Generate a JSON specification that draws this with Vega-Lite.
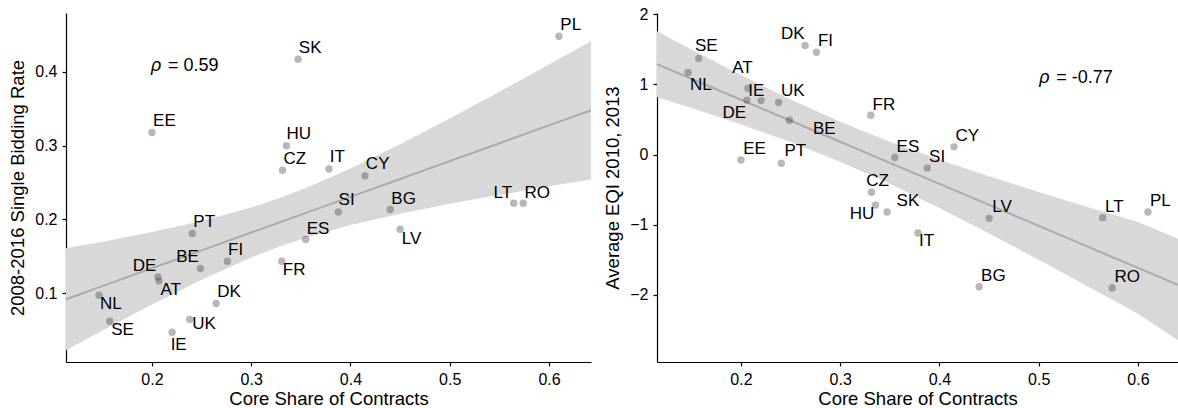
{
  "$schema": "https://vega.github.io/schema/vega-lite/v6.json",
  "padding": {"left": 8, "top": 6, "right": 0, "bottom": 0},
  "spacing": 8,
  "config": {
    "view": {"stroke": null},
    "font": "Liberation Sans",
    "axis": {
      "grid": false,
      "domainColor": "#000000",
      "domainWidth": 1.2,
      "tickColor": "#000000",
      "tickWidth": 1.2,
      "tickSize": 4,
      "labelFontSize": 16,
      "labelColor": "#000000",
      "labelPadding": 5,
      "titleFontSize": 18.5,
      "titleFontWeight": "normal",
      "titleColor": "#000000"
    },
    "axisX": {"titlePadding": 2},
    "axisY": {"titlePadding": 7}
  },
  "datasets": {
    "pts": [
      {"c": "SE", "cs": 0.1575, "sbr": 0.0617, "eqi": 1.37, "lx1": 0.1703, "ly1": 0.05, "lx2": 0.165, "ly2": 1.545},
      {"c": "NL", "cs": 0.1467, "sbr": 0.097, "eqi": 1.17, "lx1": 0.1585, "ly1": 0.0852, "lx2": 0.1595, "ly2": 0.996},
      {"c": "AT", "cs": 0.207, "sbr": 0.1164, "eqi": 0.946, "lx1": 0.2189, "ly1": 0.1042, "lx2": 0.2015, "ly2": 1.241},
      {"c": "DE", "cs": 0.206, "sbr": 0.1218, "eqi": 0.775, "lx1": 0.1926, "ly1": 0.1373, "lx2": 0.1933, "ly2": 0.586},
      {"c": "IE", "cs": 0.2203, "sbr": 0.0468, "eqi": 0.77, "lx1": 0.2269, "ly1": 0.0298, "lx2": 0.2154, "ly2": 0.903},
      {"c": "UK", "cs": 0.238, "sbr": 0.064, "eqi": 0.742, "lx1": 0.2524, "ly1": 0.0577, "lx2": 0.2522, "ly2": 0.903},
      {"c": "BE", "cs": 0.2488, "sbr": 0.1332, "eqi": 0.49, "lx1": 0.2358, "ly1": 0.1486, "lx2": 0.2839, "ly2": 0.361},
      {"c": "DK", "cs": 0.2646, "sbr": 0.0857, "eqi": 1.555, "lx1": 0.2777, "ly1": 0.1008, "lx2": 0.2522, "ly2": 1.717},
      {"c": "FI", "cs": 0.276, "sbr": 0.1431, "eqi": 1.46, "lx1": 0.2843, "ly1": 0.1585, "lx2": 0.2851, "ly2": 1.621},
      {"c": "FR", "cs": 0.3307, "sbr": 0.1431, "eqi": 0.56, "lx1": 0.3432, "ly1": 0.1313, "lx2": 0.344, "ly2": 0.703},
      {"c": "EE", "cs": 0.2, "sbr": 0.3178, "eqi": -0.077, "lx1": 0.2126, "ly1": 0.3334, "lx2": 0.2136, "ly2": 0.083},
      {"c": "PT", "cs": 0.2406, "sbr": 0.1807, "eqi": -0.124, "lx1": 0.2526, "ly1": 0.1965, "lx2": 0.2547, "ly2": 0.051},
      {"c": "CZ", "cs": 0.3315, "sbr": 0.2666, "eqi": -0.538, "lx1": 0.344, "ly1": 0.2825, "lx2": 0.3377, "ly2": -0.381},
      {"c": "ES", "cs": 0.355, "sbr": 0.1726, "eqi": -0.043, "lx1": 0.3674, "ly1": 0.1875, "lx2": 0.3682, "ly2": 0.107},
      {"c": "SI", "cs": 0.3877, "sbr": 0.21, "eqi": -0.19, "lx1": 0.3961, "ly1": 0.2259, "lx2": 0.3976, "ly2": -0.031},
      {"c": "CY", "cs": 0.4146, "sbr": 0.259, "eqi": 0.11, "lx1": 0.4274, "ly1": 0.2748, "lx2": 0.4281, "ly2": 0.261},
      {"c": "HU", "cs": 0.3355, "sbr": 0.3, "eqi": -0.72, "lx1": 0.348, "ly1": 0.3157, "lx2": 0.3219, "ly2": -0.852},
      {"c": "SK", "cs": 0.3472, "sbr": 0.4172, "eqi": -0.818, "lx1": 0.3594, "ly1": 0.4324, "lx2": 0.3682, "ly2": -0.662},
      {"c": "IT", "cs": 0.3783, "sbr": 0.2684, "eqi": -1.12, "lx1": 0.3868, "ly1": 0.2843, "lx2": 0.387, "ly2": -1.237},
      {"c": "LV", "cs": 0.45, "sbr": 0.1866, "eqi": -0.91, "lx1": 0.4615, "ly1": 0.1739, "lx2": 0.463, "ly2": -0.752},
      {"c": "BG", "cs": 0.44, "sbr": 0.2133, "eqi": -1.887, "lx1": 0.4535, "ly1": 0.2282, "lx2": 0.4543, "ly2": -1.732},
      {"c": "LT", "cs": 0.5644, "sbr": 0.2218, "eqi": -0.9, "lx1": 0.5535, "ly1": 0.2357, "lx2": 0.5761, "ly2": -0.752},
      {"c": "PL", "cs": 0.61, "sbr": 0.4484, "eqi": -0.82, "lx1": 0.6219, "ly1": 0.4634, "lx2": 0.6225, "ly2": -0.662},
      {"c": "RO", "cs": 0.574, "sbr": 0.2218, "eqi": -1.905, "lx1": 0.5882, "ly1": 0.2357, "lx2": 0.5892, "ly2": -1.747}
    ],
    "band1": [
      {"x": 0.1134, "fit": 0.0916, "lo": 0.0224, "hi": 0.1608},
      {"x": 0.15, "fit": 0.1093, "lo": 0.049, "hi": 0.1697},
      {"x": 0.2, "fit": 0.1336, "lo": 0.0844, "hi": 0.1827},
      {"x": 0.25, "fit": 0.1578, "lo": 0.118, "hi": 0.1976},
      {"x": 0.3, "fit": 0.1821, "lo": 0.1481, "hi": 0.216},
      {"x": 0.33, "fit": 0.1966, "lo": 0.1638, "hi": 0.2295},
      {"x": 0.36, "fit": 0.2112, "lo": 0.1772, "hi": 0.2451},
      {"x": 0.4, "fit": 0.2305, "lo": 0.1922, "hi": 0.2689},
      {"x": 0.45, "fit": 0.2548, "lo": 0.2077, "hi": 0.3019},
      {"x": 0.5, "fit": 0.279, "lo": 0.221, "hi": 0.337},
      {"x": 0.55, "fit": 0.3033, "lo": 0.2332, "hi": 0.3733},
      {"x": 0.6, "fit": 0.3275, "lo": 0.2448, "hi": 0.4102},
      {"x": 0.6423, "fit": 0.348, "lo": 0.2542, "hi": 0.4418}
    ],
    "band2": [
      {"x": 0.1154, "fit": 1.29, "lo": 0.82, "hi": 1.76},
      {"x": 0.15, "fit": 1.0824, "lo": 0.665, "hi": 1.5},
      {"x": 0.2, "fit": 0.7823, "lo": 0.43, "hi": 1.134},
      {"x": 0.25, "fit": 0.4823, "lo": 0.178, "hi": 0.787},
      {"x": 0.3, "fit": 0.1822, "lo": -0.103, "hi": 0.468},
      {"x": 0.35, "fit": -0.1178, "lo": -0.418, "hi": 0.182},
      {"x": 0.4, "fit": -0.4179, "lo": -0.762, "hi": -0.074},
      {"x": 0.45, "fit": -0.7179, "lo": -1.126, "hi": -0.31},
      {"x": 0.5, "fit": -1.018, "lo": -1.502, "hi": -0.534},
      {"x": 0.55, "fit": -1.318, "lo": -1.885, "hi": -0.751},
      {"x": 0.6, "fit": -1.618, "lo": -2.273, "hi": -0.963},
      {"x": 0.6403, "fit": -1.86, "lo": -2.65, "hi": -1.2}
    ],
    "rho1": [{"x": 0.199, "y": 0.4087, "sym": "ρ", "val": "= 0.59"}],
    "rho2": [{"x": 0.5004, "y": 1.093, "sym": "ρ", "val": "= -0.77"}]
  },
  "hconcat": [
    {
      "width": 525,
      "height": 349,
      "layer": [
        {
          "data": {"name": "band1"},
          "mark": {"type": "area", "color": "#d8d8d8"},
          "encoding": {
            "x": {"field": "x", "type": "quantitative", "scale": {"domain": [0.1134, 0.6423], "nice": false, "zero": false},
                  "axis": {"title": "Core Share of Contracts", "values": [0.2, 0.3, 0.4, 0.5, 0.6], "format": ".1f"}},
            "y": {"field": "lo", "type": "quantitative", "scale": {"domain": [0.0064, 0.48], "nice": false, "zero": false},
                  "axis": {"title": "2008-2016 Single Bidding Rate", "values": [0.1, 0.2, 0.3, 0.4], "format": ".1f"}},
            "y2": {"field": "hi"}
          }
        },
        {
          "data": {"name": "band1"},
          "mark": {"type": "line", "color": "#ababab", "strokeWidth": 2},
          "encoding": {
            "x": {"field": "x", "type": "quantitative"},
            "y": {"field": "fit", "type": "quantitative"}
          }
        },
        {
          "data": {"name": "pts"},
          "mark": {"type": "circle", "color": "#333333", "opacity": 0.35, "size": 55},
          "encoding": {
            "x": {"field": "cs", "type": "quantitative"},
            "y": {"field": "sbr", "type": "quantitative"}
          }
        },
        {
          "data": {"name": "pts"},
          "mark": {"type": "text", "fontSize": 17, "color": "#000000", "align": "center", "baseline": "middle"},
          "encoding": {
            "x": {"field": "lx1", "type": "quantitative"},
            "y": {"field": "ly1", "type": "quantitative"},
            "text": {"field": "c"}
          }
        },
        {
          "data": {"name": "rho1"},
          "mark": {"type": "text", "fontSize": 18, "fontStyle": "italic", "color": "#000000", "align": "left", "baseline": "middle"},
          "encoding": {
            "x": {"field": "x", "type": "quantitative"},
            "y": {"field": "y", "type": "quantitative"},
            "text": {"field": "sym"}
          }
        },
        {
          "data": {"name": "rho1"},
          "mark": {"type": "text", "fontSize": 18, "color": "#000000", "align": "left", "baseline": "middle", "dx": 17},
          "encoding": {
            "x": {"field": "x", "type": "quantitative"},
            "y": {"field": "y", "type": "quantitative"},
            "text": {"field": "val"}
          }
        }
      ]
    },
    {
      "width": 521,
      "height": 349,
      "layer": [
        {
          "data": {"name": "band2"},
          "mark": {"type": "area", "color": "#d8d8d8"},
          "encoding": {
            "x": {"field": "x", "type": "quantitative", "scale": {"domain": [0.1154, 0.6403], "nice": false, "zero": false},
                  "axis": {"title": "Core Share of Contracts", "values": [0.2, 0.3, 0.4, 0.5, 0.6], "format": ".1f"}},
            "y": {"field": "lo", "type": "quantitative", "scale": {"domain": [-2.96, 2.02], "nice": false, "zero": false},
                  "axis": {"title": "Average EQI 2010, 2013", "values": [-2, -1, 0, 1, 2], "format": "d", "labelExpr": "replace(datum.label, '-', '−')"}},
            "y2": {"field": "hi"}
          }
        },
        {
          "data": {"name": "band2"},
          "mark": {"type": "line", "color": "#ababab", "strokeWidth": 2},
          "encoding": {
            "x": {"field": "x", "type": "quantitative"},
            "y": {"field": "fit", "type": "quantitative"}
          }
        },
        {
          "data": {"name": "pts"},
          "mark": {"type": "circle", "color": "#333333", "opacity": 0.35, "size": 55},
          "encoding": {
            "x": {"field": "cs", "type": "quantitative"},
            "y": {"field": "eqi", "type": "quantitative"}
          }
        },
        {
          "data": {"name": "pts"},
          "mark": {"type": "text", "fontSize": 17, "color": "#000000", "align": "center", "baseline": "middle"},
          "encoding": {
            "x": {"field": "lx2", "type": "quantitative"},
            "y": {"field": "ly2", "type": "quantitative"},
            "text": {"field": "c"}
          }
        },
        {
          "data": {"name": "rho2"},
          "mark": {"type": "text", "fontSize": 18, "fontStyle": "italic", "color": "#000000", "align": "left", "baseline": "middle"},
          "encoding": {
            "x": {"field": "x", "type": "quantitative"},
            "y": {"field": "y", "type": "quantitative"},
            "text": {"field": "sym"}
          }
        },
        {
          "data": {"name": "rho2"},
          "mark": {"type": "text", "fontSize": 18, "color": "#000000", "align": "left", "baseline": "middle", "dx": 17},
          "encoding": {
            "x": {"field": "x", "type": "quantitative"},
            "y": {"field": "y", "type": "quantitative"},
            "text": {"field": "val"}
          }
        }
      ]
    }
  ]
}
